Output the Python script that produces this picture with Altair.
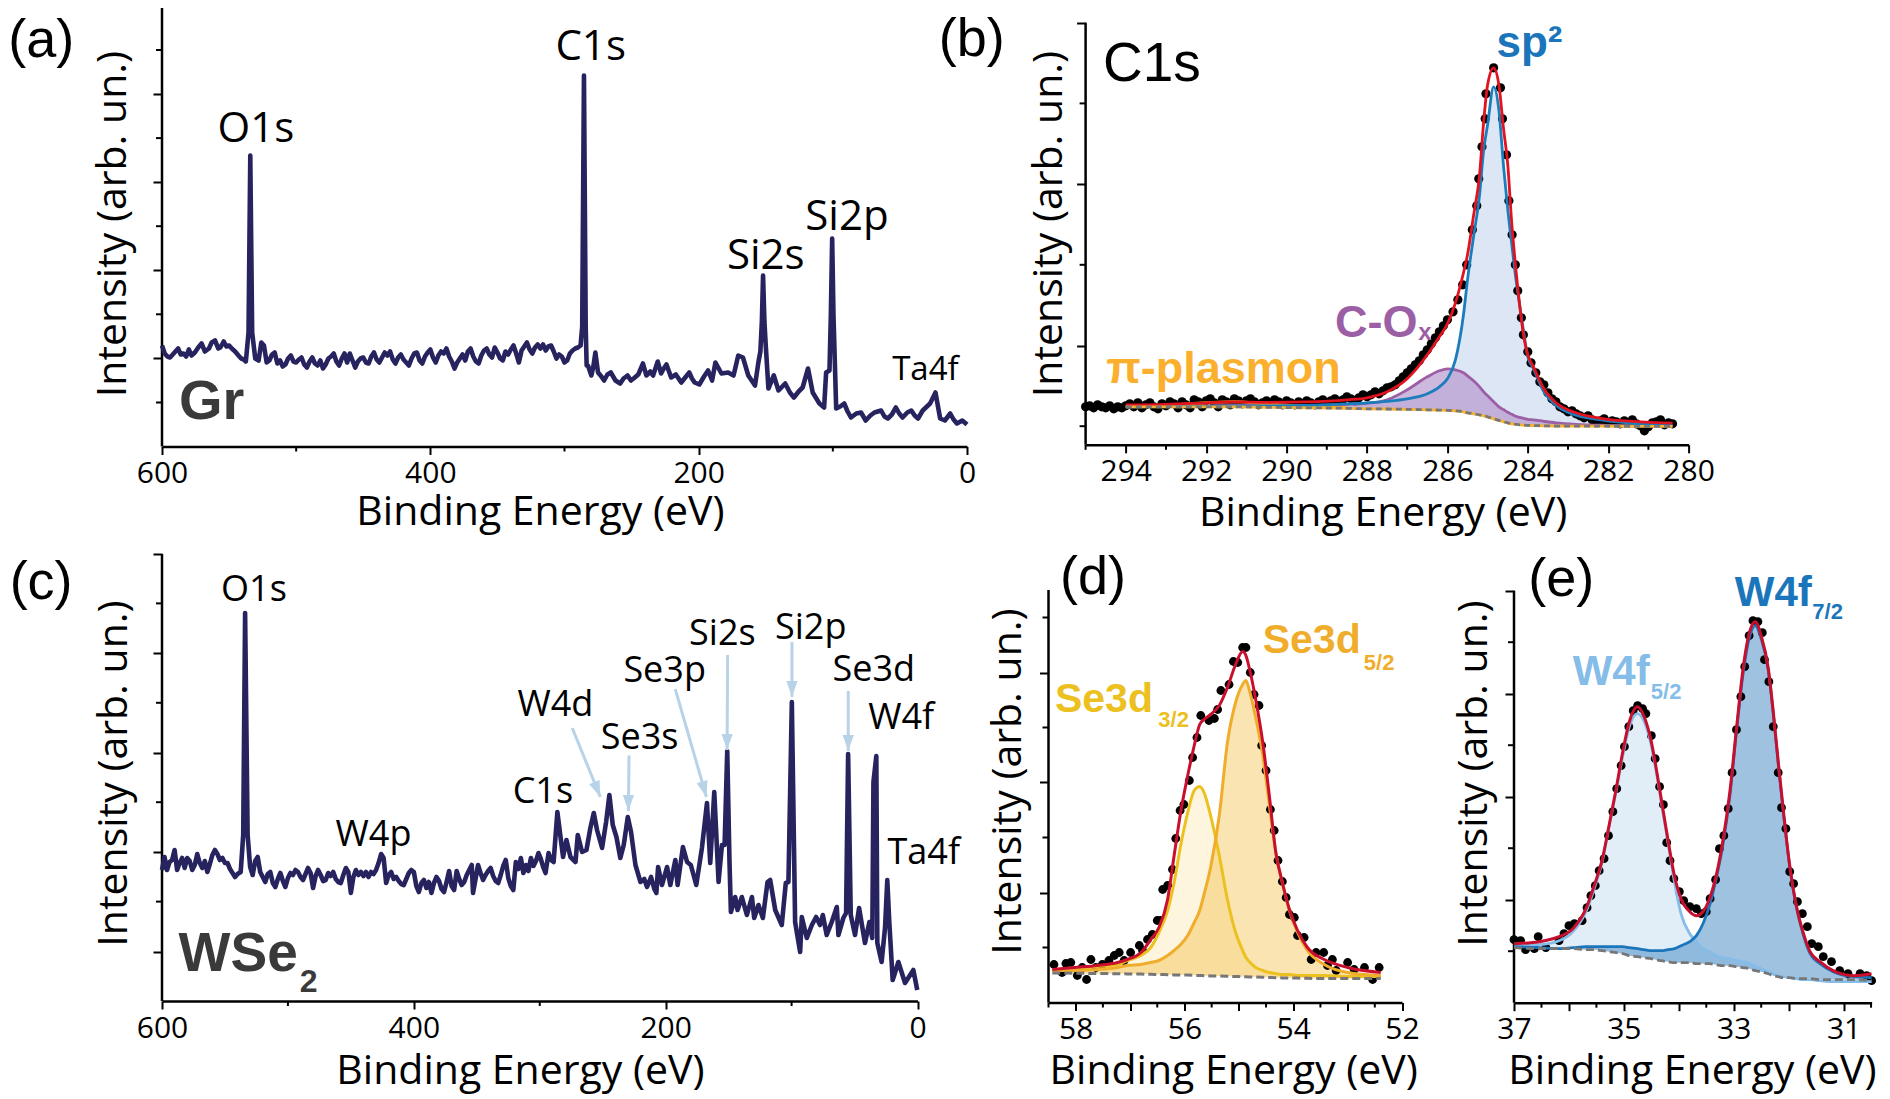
import altair as alt
import pandas as pd

# ---- survey spectrum, panel (a): (binding energy eV, intensity arb.)
a_points = [(600,101),(598,93),(596,90),(594,89),(592,92),(590,95),(588,98),(586,92),(584,93),(582,90),(580,97),(578,91),(575.5,94),(573,99),(570.5,103),(568,95),(565,98),(563,104),(560.5,106),(558,98),(556.5,99),(554,105),(552,100),(550,101),(548,98),(545.5,95),(543,91),(541,88),(539,87),(537.5,85),(535.5,114),(534.2,291),(532.8,114),(530.5,88),(528,86),
(526,104),(524,101),(522,84),(520,86),(518,92),(516,94),(514,83),(512,86),(510,80),(508,82),(506,88),(504,91),(502,85),(500,84),(498,87),(496,89),(494,82),(492,79),(490,85),(488,89),(486,83),(484,81),(482,86),(480,78),(478,82),(476,88),(474,90),(472,93),(470,85),(468,81),(466,88),(464,93),(462,84),(460,93),(458,86),(456,79),(454,85),(452,88),(450,89),(448,84),(446,83),(444,90),(442,94),(440,87),(438,84),(436,89),(434,94),(432,91),(430,95),(428,87),(426,83),(424,89),(422,92),(420,87),(418,84),(416,81),(414,88),(412,93),(410,94),(408,86),(406,83),(404,90),(402,94),(400,97),(398,89),(396,84),(394,91),(392,95),(390,93),(388,98),(386,90),(384,85),(382,78),(380,84),(378,88),(376,92),(374,86),(372,95),(370,98),(368,90),(366,85),(364,83),(362,91),(360,96),(358,98),(356,92),(354,89),(352,99),(350,94),(348,88),(346,86),(344,95),(342,92),(340,97),(338,101),(336,93),(334,84),(332,96),(330,100),(328,104),(326,97),(324,93),(322,99),(320,102),(318,98),(316,102),(314,96),(312,100),(310,101),(308,95),(306,88),(304,92),(302,90),(300,84),(298,86),(296,93),(294,96),(292,98),(290,99),(288,101),
(286.8,120),(285.5,371),(284.2,120),(283.5,81),(282.5,81),(280,71),(278.5,80),(277,94),(275,74),(272.5,70),(270.5,66),(268,72),(265.5,74),(262,66),(258.5,63),(256,68),(253,71),(250.5,66),(248.5,68),(245,72),(241.5,83),(239,71),(236,75),(234,71),(230.5,85),(228,73),(226,78),(224,82),(220.5,69),(217,72),(213,64),(210,69),(207,74),(205,68),(203,64),(199.5,62),(196,70),(193,76),(190,66),(187.5,84),(183,73),(178,74),(174,71),(170.5,91),(167,89),(163,71),(158,61),(155.5,84),(154,95),(152.9,125),(152,171),(151,125),(150,101),(148,58),(144,71),(140.5,56),(135.5,63),(132,54),(129,49),(125.5,55),(122.5,59),(118.5,78),(115,54),(110,43),(106.5,39),(105,74),(102.5,76),(101.5,130),(100.5,208),(99.5,130),(98.5,84),(97.5,38),(94.5,40),(91.5,43),(89,35),(86.5,29),(82.5,33),(79,34),(75.5,26),(72,31),(69,34),(64,36),(61.5,30),(59,28),(56,32),(53,39),(50.5,33),(48,29),(44.5,34),(41.5,36),(39,31),(36.5,28),(33,36),(27.5,43),(23.5,54),(20,28),(16.5,26),(12.5,33),(10,27),(7.5,23),(3.5,26),(0,22)]

# ---- survey spectrum, panel (c)
c_points = [(600,131),(598,144),(596,131),(594,139),(592,141),(590,151),(588,131),(586,138),(584,143),(582,133),(580,143),(578,140),(576,131),(574,136),(572,147),(570,138),(568,133),(566,140),(564,129),(562,137),(560,146),(558,151),(556,147),(554,141),(552,143),(550,138),(548,138),(546,132),(544,128),(542,124),(540,127),(537.5,129),(535.5,166),(534,388),(532,166),(530,134),(528,126),(526,140),(524,144),(522,129),(520,124),(518,119),(516,127),(514,129),(512,118),(510,114),(508,122),(506,128),(504,120),(502,114),(500,123),(498,128),(496,126),(494,131),(492,129),(490,124),(488,121),(486,127),(484,133),(482,128),(480,113),(478,125),(476,131),(474,126),(472,120),(470,121),(468,128),(466,125),(464,129),(462,122),(460,119),(458,118),(456,126),(454,133),(452,129),(450,108),(448,124),(446,131),(444,126),(442,129),(440,125),(438,129),(436,124),(434,129),(432,127),(430,131),(428,138),(426,147),(424,143),(422,118),(420,126),(418,129),(416,122),(414,124),(412,120),(410,117),(408,116),(406,122),(404,128),(402,131),(400,129),(398,115),(396,109),(394,118),(392,121),(390,113),(388,119),(386,108),(384,118),(382,124),(380,120),(378,112),(376,109),(374,119),(372,130),(370,115),(368,111),(366,130),(364,122),(362,116),(360,119),(358,126),(356,131),(354,136),(353,108),(351,122),(349,136),(347,128),(345,121),(343,126),(341,130),(339,133),(337,125),(335,120),(333,118),(331,126),(329,135),(327,141),(325,123),(323,115),(321,111),(319,139),(317,132),(315,143),(313,128),(311,136),(309,130),(307,143),(305,135),(303,140),(301,148),(299.4,143),(297,133),(295.4,128),(293,148),(291,141),(289,139),
(286,189),(283,159),(281.5,144),(278.8,161),(275.6,144),(271.6,139),(269.8,166),(266.4,149),(262.9,151),(259.8,173),(257.1,188),(254.5,171),(250.5,153),(247.3,179),(244.7,206),(242,176),(239.1,164),(236,143),(233.3,156),(230.1,184),(227.5,169),(224,136),(220,119),(217,122),(214.8,114),(211.6,124),(209,112),(207.4,108),(206,134),(202.9,116),(198.9,134),(196.3,116),(192.3,141),(190.5,116),(186.3,154),(183,139),(180,136),(175.7,116),(171.2,153),(167.2,198),(164.6,138),(161.4,209),(158,119),(155.3,156),(153.2,156),(151.1,250),(149.3,139),(148.2,89),(144.8,104),(142.9,91),(139.5,104),(135.5,86),(131.5,104),(129.7,83),(126.3,96),(122.8,83),(119.1,119),(117,121),(113,91),(107.8,76),(104.6,118),(102.5,119),(99.8,299),(97.2,79),(93.2,49),(91.9,84),(87.9,63),(83.9,76),(80.5,84),(77.4,76),(75.2,86),(72.1,66),(68.1,79),(64.1,94),(62.8,66),(58.9,83),(56.7,88),(55.1,247),(53,86),(49.6,66),(46.4,93),(41.7,58),(38.2,79),(35.9,63),(35,219),(32.7,245),(31.9,58),(28.5,39),(25.8,73),(24,121),(22.4,79),(19.7,21),(15.2,39),(9.9,18),(3.3,31),(0.2,11)]

# ---- panel (b): C1s fit components
b_x = [294,293,292,291.3,290.5,289.5,288.5,288,287.5,287,286.5,286.2,286,285.8,285.6,285.5,285.35,285.2,285.1,285,284.85,284.72,284.6,284.5,284.4,284.3,284.2,284.1,284,283.87,283.6,283.3,282.8,282.1,281.2,280.4]
b_base = [38,38,38,38,37.5,37,36.5,36,35.8,35.5,35,34.7,34.5,34,33,32,31,30,29,28,26,24.5,23,22,21,20.5,20,19.7,19.5,19.3,19,18.8,18.7,18.6,18.5,18.5]
b_purple = [38,38.5,39,39.5,39.5,39.5,40.5,41.5,45,55,68,74,76,75,72,69,64,58,53,49,43,38,35,32.5,30.5,28.5,27.5,26.5,25.5,25,23.5,22,20.5,19.5,19,18.8]
b_blue = [38,38.3,38.5,39,39,39.5,41,42,43.5,46,51,58,66,85,130,165,208,250,294,320,358,335,277,236,201,167,139,112,88,77,53,39.5,29.5,24.5,21,19.5]
b_red = [40,40.5,42,43,42.5,43,45,47,53,66,90,108,121,142,172,190,229,270,322,360,377,360,315,281,222,177,139,108,90,79,56,42,32,26,23,21.7]
b_plasmon_x = [294,293,292,291.3,290.5,289.5,288.5]
b_plasmon = [38.5,39.5,42,43,41,38.5,37]
b_dot_x = [295.0,294.9,294.8,294.7,294.6,294.5,294.4,294.3,294.2,294.1,294.0,293.9,293.8,293.7,293.6,293.5,293.4,293.3,293.2,293.1,293.0,292.9,292.8,292.7,292.6,292.5,292.4,292.3,292.2,292.1,292.0,291.9,291.8,291.7,291.6,291.5,291.4,291.3,291.2,291.1,291.0,290.9,290.8,290.7,290.6,290.5,290.4,290.3,290.2,290.1,290.0,
 289.9,289.8,289.7,289.6,289.5,289.4,289.3,289.2,289.1,289.0,288.9,288.8,288.7,288.6,288.5,288.4,288.3,288.2,288.1,288.0,
 287.9,287.8,287.7,287.6,287.5,287.4,287.3,287.2,287.1,287.0,286.9,286.8,286.7,286.6,286.5,286.4,286.3,286.2,286.1,286.0,
 285.86,285.74,285.62,285.52,285.38,285.27,285.22,285.14,285.06,285.04,284.85,284.68,284.63,284.53,284.47,284.39,284.31,284.25,284.16,284.11,284.0,283.92,
 283.8,283.7,283.6,283.5,283.4,283.3,283.2,283.1,283.0,282.9,282.8,282.7,282.6,282.5,282.4,282.3,282.2,282.1,282.0,281.9,281.8,281.7,281.6,281.5,281.4,281.3,281.2,281.1,281.0,280.9,280.8,280.7,280.6,280.5,280.4]
b_dot_y = [38,39,37,40,38,37,39,36,38,37,39,41,38,42,37,40,42,38,36,41,39,43,41,37,43,40,37,45,43,38,44,46,42,38,45,43,40,46,44,41,44,46,43,40,42,44,41,45,43,40,44,
 42,40,43,41,44,42,40,43,45,42,44,46,43,45,48,46,44,47,50,48,
 50,53,51,54,57,58,60,64,68,72,76,80,84,90,95,101,107,113,119,125,
 133,145,160,180,215,239,266,298,326,351,377,357,326,290,244,210,180,154,127,110,93,82,
 72,63,60,52,46,43,38,36,33,34,31,29,27,29,25,22,24,26,22,24,23,21,24,22,25,21,19,14,18,22,23,25,20,22,21]

# ---- panel (d): Se3d fit components
d_x = [58.43,58.03,57.6,57.23,57.05,56.8,56.62,56.47,56.31,56.19,56.07,55.94,55.82,55.72,55.64,55.52,55.36,55.21,55.06,54.93,54.87,54.81,54.69,54.56,54.44,54.32,54.2,54.07,53.92,53.74,53.43,53,52.39]
d_red = [33,35,37,40,43,50,63,75,103,147,190,227,257,278,283,288,297,315,338,351,347,335,303,260,207,150,120,93,72,55,43,35,30]
d_yellow = [32,33,36,38,42,47,55,70,92,120,157,190,212,216,210,187,147,103,70,52,45,41,35,32,30,29,28,28,27,27,27,26,26]
d_orange = [32,32,33,35,37,38,40,42,47,52,58,67,80,92,108,135,187,260,300,318,322,313,285,247,198,150,120,92,70,52,38,30,27]
d_base = [29.5,29.3,29,28.8,28.6,28.4,28.2,28,27.8,27.6,27.5,27.4,27.2,27,26.8,26.6,26.4,26.2,26,25.8,25.7,25.6,25.4,25.2,25,24.8,24.6,24.5,24.4,24.2,24,24,24]
d_dot_x = [58.4,58.25,58.18,58.09,57.97,57.88,57.8,57.72,57.63,57.51,57.39,57.29,57.2,57.11,56.99,56.83,56.77,56.68,56.59,56.5,56.44,56.4,56.31,56.22,56.16,56.08,56.01,55.91,55.85,55.77,55.7,55.55,55.45,55.39,55.33,55.18,55.1,55.02,54.93,54.87,54.79,54.72,54.63,54.58,54.5,54.42,54.35,54.28,54.2,54.13,54.07,53.98,53.92,53.8,53.67,53.58,53.44,53.37,53.28,53.21,53,52.88,52.69,52.54,52.42]
d_dot_y = [38,30,39,40,27,35,23,43,35,38,42,47,50,42,50,57,52,63,68,82,82,113,117,133,164,192,198,222,245,265,287,282,284,293,312,318,341,340,355,355,330,308,297,257,232,193,172,142,121,105,88,85,67,65,43,50,50,37,43,32,40,33,35,23,35]

# ---- panel (e): W4f fit components
e_x = [37,36.54,36.18,35.93,35.69,35.54,35.39,35.27,35.14,35.02,34.9,34.75,34.63,34.5,34.41,34.32,34.2,34.08,33.96,33.8,33.68,33.56,33.44,33.32,33.2,33.07,32.95,32.83,32.71,32.61,32.5,32.37,32.28,32.19,32.1,31.98,31.86,31.74,31.61,31.43,31.19,30.82,30.49]
e_red = [59,61,66,74,94,117,144,177,214,251,281,296,286,261,234,204,164,127,104,91,87,91,104,127,161,211,274,334,371,381,367,334,291,241,194,137,97,71,51,41,32,27,29]
e_light = [57,58,62,71,91,114,142,176,212,247,276,289,281,257,231,201,161,121,89,69,61,54,51,47,45,44,42,41,39,37,34,31,29,27,26,25,24,23,23,22,21,21,21]
e_dark = [56,55,54,55,56,56,56,56,56,56,55,54,53,52,52,52,53,54,57,61,67,79,97,124,157,207,271,329,366,377,364,332,289,239,192,136,96,69,49,39,31,26,25]
e_base = [55,54,54,54,53,53,52,51,50,49,47,46,45,44,43,42,41,40,40,40,39,39,39,38,37,37,36,35,34,32,31,29,27,26,25,25,24,24,24,23,23,23,22]
e_dot_x = [37,36.88,36.79,36.63,36.56,36.42,36.18,36.09,36,35.9,35.76,35.67,35.6,35.52,35.45,35.36,35.28,35.2,35.13,35.05,34.99,34.91,34.83,34.75,34.66,34.6,34.5,34.43,34.35,34.28,34.22,34.16,34.09,33.99,33.91,33.8,33.68,33.59,33.5,33.43,33.33,33.26,33.18,33.1,33.03,32.95,32.87,32.8,32.72,32.65,32.56,32.48,32.44,32.36,32.28,32.19,32.13,32.05,31.98,31.91,31.84,31.75,31.66,31.58,31.46,31.37,31.22,31.07,30.92,30.7,30.58,30.49]
e_dot_y = [63,62,53,54,66,55,62,69,77,79,82,95,107,117,132,144,167,191,214,237,256,276,292,297,294,289,267,244,216,198,160,142,124,111,102,96,94,89,91,104,123,154,167,194,230,273,306,336,367,382,381,370,343,321,276,230,195,174,131,119,101,89,76,59,56,46,41,32,29,29,27,22]

# ---- annotations: text, binding energy, intensity
a_peaks = [("O1s",530,318),("C1s",280.5,400),("Si2s",150,191),("Si2p",89.5,230)]
c_peaks = [("O1s",527,411),("Si2s",155,367),("Si2p",84.8,373),("Se3p",200.8,330),("Se3d",34.7,331),("W4f",12.9,283),("W4d",287.6,296),("Se3s",220.7,262.6),("C1s",297.5,209),("W4p",432,166),("Ta4f",-5,148)]
c_arrows = [(274.2,273,251.9,204,338),(229.1,245.4,229.6,190,0),(192.4,312,167.6,204,344),(150.8,346,151.2,251,0),(99.7,359,99.7,304,0),(55,310,55,250,0)]

FONT = "Open Sans"
ARIAL = "Liberation Sans"
NAVY = "#26235f"
X_TITLE = "Binding Energy (eV)"
Y_TITLE = "Intensity (arb. un.)"
GREY = "#3a3a3a"


def panel(layers_fn, xdom, w, h, ytop, xmaj, xmin, ymaj, ymin, xt, yt, lab=None):
    xs = alt.Scale(domain=xdom, nice=False, zero=False)
    ys = alt.Scale(domain=[0, h], nice=False, zero=False)
    xaxis = alt.Axis(values=xmaj, title=X_TITLE, titleFont=FONT, titleFontSize=41, titleFontWeight="normal",
                     titleX=xt[0], titleY=xt[1], titleAlign="center", titleBaseline="alphabetic", titleColor="black",
                     labelFont=FONT, labelFontSize=30, labelColor="black", labelPadding=4, labelOverlap=False, labelFlush=False,
                     tickSize=8, tickWidth=2, tickColor="black", domainWidth=2.5, domainColor="black", grid=False,
                     **({"labelExpr": lab} if lab else {}))
    yaxis = alt.Axis(values=ymaj, title=Y_TITLE, titleFont=FONT, titleFontSize=41, titleFontWeight="normal",
                     titleX=yt[0], titleY=yt[1], titleAngle=270, titleAlign="center", titleBaseline="alphabetic", titleColor="black",
                     labels=False, tickSize=9, tickWidth=2, tickColor="black", domain=False, grid=False)
    X = lambda f: alt.X(f, type="quantitative", scale=xs, axis=xaxis)
    Y = lambda f: alt.Y(f, type="quantitative", scale=ys, axis=yaxis)
    frame = alt.Chart(pd.DataFrame({"x": [xdom[0]], "y": [0], "y2": [ytop]})).mark_rule(color="black", strokeWidth=2.5).encode(
        x=X("x"), y=Y("y"), y2="y2")
    xm = alt.Chart(pd.DataFrame({"v": xmin})).mark_rule(color="black", strokeWidth=2).encode(
        x=X("v"), y=alt.value(h), y2=alt.value(h + 5))
    ym = alt.Chart(pd.DataFrame({"v": ymin})).mark_rule(color="black", strokeWidth=2).encode(
        y=Y("v"), x=alt.value(0), x2=alt.value(-6))

    def line(x, y, color, width=2.5, dash=None, interp="monotone"):
        kw = {"strokeDash": dash} if dash else {}
        return alt.Chart(pd.DataFrame({"x": x, "y": y})).mark_line(
            color=color, strokeWidth=width, interpolate=interp, strokeJoin="round", **kw).encode(x=X("x"), y=Y("y"))

    def area(x, y, y2, color, opacity=1.0):
        return alt.Chart(pd.DataFrame({"x": x, "y": y, "y2": y2})).mark_area(
            color=color, opacity=opacity, interpolate="monotone").encode(x=X("x"), y=Y("y"), y2="y2")

    def dots(x, y, size):
        return alt.Chart(pd.DataFrame({"x": x, "y": y})).mark_circle(color="black", opacity=1, size=size).encode(x=X("x"), y=Y("y"))

    def text(t, x, y, size, color="black", font=FONT, weight="normal"):
        return alt.Chart(pd.DataFrame({"t": [t], "x": [x], "y": [y]})).mark_text(
            font=font, fontSize=size, color=color, fontWeight=weight, align="center", baseline="middle").encode(
            x=X("x"), y=Y("y"), text="t:N")

    def seg(x1, y1, x2, y2, angle):
        d = pd.DataFrame({"x": [x1], "y": [y1], "x2": [x2], "y2": [y2]})
        r = alt.Chart(d).mark_rule(color="#b8d3e8", strokeWidth=3).encode(x=X("x"), y=Y("y"), x2="x2", y2="y2")
        p = alt.Chart(d).mark_point(shape="M -0.7 -2 L 0.7 -2 L 0 0 Z", filled=True, color="#b8d3e8", opacity=1,
                                    size=256, angle=angle).encode(x=X("x2"), y=Y("y2"))
        return [r, p]

    tools = dict(line=line, area=area, dots=dots, text=text, seg=seg)
    return alt.layer(frame, xm, ym, *layers_fn(tools)).properties(width=w, height=h)


def layers_a(t):
    be, val = zip(*a_points)
    out = [t["line"](list(be), list(val), NAVY, 4.6, interp="linear")]
    out += [t["text"](s, x, y, 42) for s, x, y in a_peaks]
    out += [t["text"]("Ta4f", 31, 77, 33),
            t["text"]("Gr", 563, 45, 56, GREY, ARIAL, "bold"),
            t["text"]("(a)", 690, 406, 54, "black", ARIAL)]
    return out


def layers_b(t):
    return [
        t["area"](b_x, b_blue, b_base, "#dce6f4"),
        t["area"](b_x, b_purple, b_base, "#b493cc", 0.65),
        t["dots"](b_dot_x, b_dot_y, 85),
        t["line"](b_x, b_purple, "#9c5fa5", 2.8),
        t["line"](b_plasmon_x, b_plasmon, "#f5a623", 3),
        t["line"](b_x, b_blue, "#1b7dbb", 2.8),
        t["line"](b_x, b_red, "#e2121f", 2.8),
        t["line"](b_x, b_base, "#f5b335", 2.8),
        t["line"](b_x, b_base, "#777777", 2.8, [6, 4]),
        t["text"]("C1s", 293.35, 381, 55, "black", ARIAL),
        t["text"]("sp²", 283.96, 401, 44, "#1b75bb", ARIAL, "bold"),
        t["text"]("C-O", 287.77, 122, 45, "#9c5fa5", ARIAL, "bold"),
        t["text"]("x", 286.56, 112, 24, "#9c5fa5", ARIAL, "bold"),
        t["text"]("π-plasmon", 291.57, 75.5, 45, "#fbb02d", ARIAL, "bold"),
        t["text"]("(b)", 297.83, 405, 54, "black", ARIAL),
    ]


def layers_c(t):
    be, val = zip(*c_points)
    out = [t["line"](list(be), list(val), NAVY, 4.6, interp="linear")]
    for a in c_arrows:
        out += t["seg"](*a)
    out += [t["text"](s, x, y, 36) for s, x, y in c_peaks]
    out += [t["text"]("WSe", 539.5, 46.6, 55, GREY, ARIAL, "bold"),
            t["text"]("2", 483.5, 19, 32, GREY, ARIAL, "bold"),
            t["text"]("(c)", 696, 418, 54, "black", ARIAL)]
    return out


def layers_d(t):
    return [
        t["area"](d_x, d_yellow, d_base, "#f5c842", 0.18),
        t["area"](d_x, d_orange, d_base, "#f0b429", 0.36),
        t["dots"](d_dot_x, d_dot_y, 78),
        t["line"](d_x, d_yellow, "#ecc01f", 3),
        t["line"](d_x, d_orange, "#f0ad2b", 3),
        t["line"](d_x, d_base, "#777777", 3, [8, 4]),
        t["line"](d_x, d_red, "#c8102e", 3),
        t["text"]("Se3d", 53.66, 361.7, 41, "#f0ad2b", ARIAL, "bold"),
        t["text"]("5/2", 52.42, 340, 22, "#f0ad2b", ARIAL, "bold"),
        t["text"]("Se3d", 57.48, 303, 41, "#ecc01f", ARIAL, "bold"),
        t["text"]("3/2", 56.2, 283, 22, "#ecc01f", ARIAL, "bold"),
        t["text"]("(d)", 57.68, 425, 54, "black", ARIAL),
    ]


def layers_e(t):
    return [
        t["area"](e_x, e_light, e_base, "#a9cdec", 0.35),
        t["area"](e_x, e_dark, e_base, "#3f86c2", 0.5),
        t["dots"](e_dot_x, e_dot_y, 78),
        t["line"](e_x, e_light, "#85bde8", 2.8),
        t["line"](e_x, e_dark, "#1b75bb", 2.8),
        t["line"](e_x, e_base, "#777777", 2.8, [8, 4]),
        t["line"](e_x, e_red, "#c8102e", 3),
        t["text"]("W4f", 32.28, 410, 42, "#1b75bb", ARIAL, "bold"),
        t["text"]("7/2", 31.29, 391, 22, "#1b75bb", ARIAL, "bold"),
        t["text"]("W4f", 35.23, 331, 42, "#85bde8", ARIAL, "bold"),
        t["text"]("5/2", 34.23, 311, 22, "#85bde8", ARIAL, "bold"),
        t["text"]("(e)", 36.14, 423, 54, "black", ARIAL),
    ]


pa = panel(layers_a, [600, 0], 805, 440.5, 440.5, [600, 400, 200, 0], [500, 300, 100],
           [88.1, 176.2, 264.3, 352.4, 440.5], [44, 132.2, 220.3, 308.4, 396.5], (378, 78), (-37, 217.5))
pb = panel(layers_b, [295, 280], 603, 438.8, 422, [294, 292, 290, 288, 286, 284, 282, 280], [295, 293, 291, 289, 287, 285, 283, 281],
           [99.3, 260.7, 422], [18.6, 180, 341.4], (297, 81), (-24, 217.5))
pc = panel(layers_c, [600, 0], 755.5, 447, 447, [600, 400, 200, 0], [500, 300, 100],
           [49.4, 148.8, 248.2, 347.6, 447], [99.4, 198.8, 298.2, 397.6], (358, 82), (-36, 219))
pd_ = panel(layers_d, [58.5, 52], 353.5, 448.5, 412.5, [58, 57, 56, 55, 54, 53, 52], [58.5, 57.5, 56.5, 55.5, 54.5, 53.5, 52.5],
            [110, 220, 330], [55, 165, 275, 385], (184.7, 80.5), (-28, 227),
            lab="datum.value % 2 == 0 ? datum.value : ''")
pe = panel(layers_e, [37, 30.49], 357.6, 448.7, 412, [37, 36, 35, 34, 33, 32, 31], [36.5, 35.5, 34.5, 33.5, 32.5, 31.5, 30.5],
           [103, 206, 309, 412], [51.5, 154.5, 257.5, 360.5], (178, 80.3), (-28, 219),
           lab="datum.value % 2 == 1 ? datum.value : ''")

row1 = alt.hconcat(pa, pb, spacing=118.6, bounds="flush")
right = alt.hconcat(pd_, pe, spacing=111.5, bounds="flush")
row2 = alt.hconcat(pc, right, spacing=130.5, bounds="flush")
chart = alt.vconcat(row1, row2, spacing=548, bounds="flush").properties(
    padding={"left": 0, "top": -4, "right": 0, "bottom": 3}, background="white"
).configure_view(stroke=None)

chart.save("out.html", embed_options={"renderer": "svg", "actions": False})
